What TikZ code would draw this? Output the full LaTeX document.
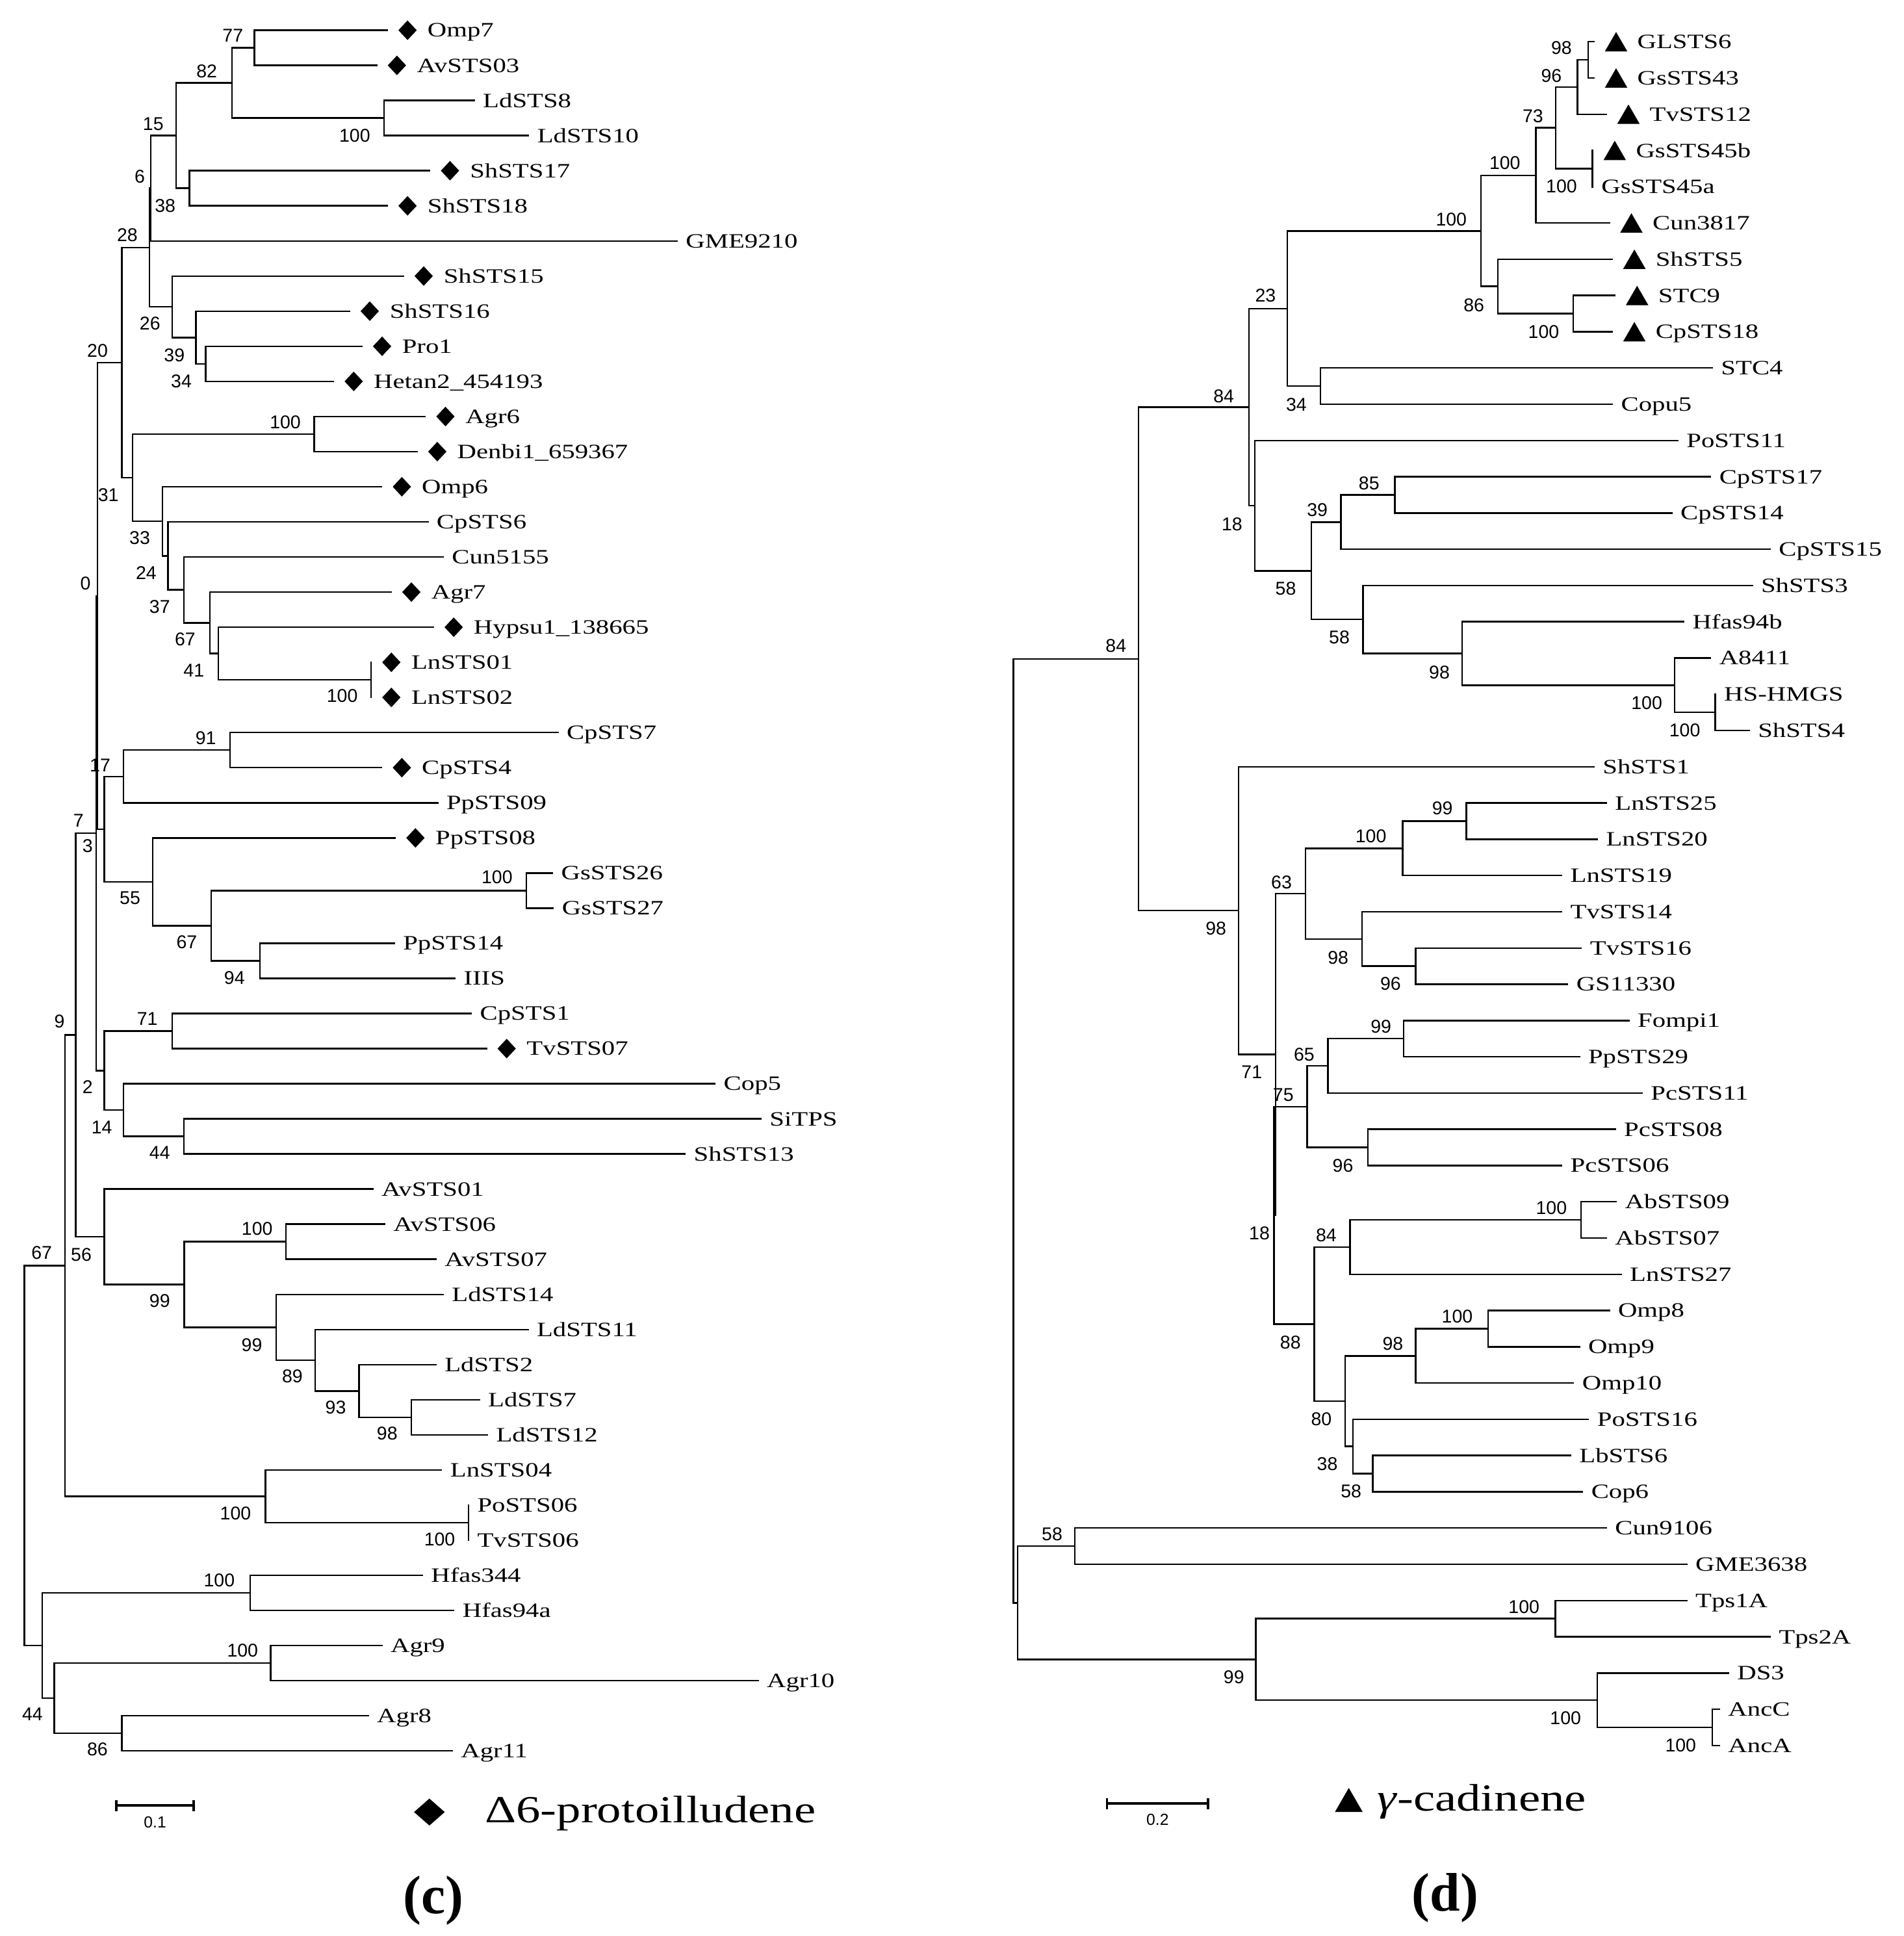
\documentclass[tikz,border=0pt]{standalone}
\usepackage{fontspec}
\setmainfont{Liberation Serif}
\newfontfamily\leaffont[FakeStretch=1.3]{Liberation Serif}
\newfontfamily\bsfont{Liberation Sans}
\newfontfamily\legfont[FakeStretch=1.27]{Liberation Serif}
\usetikzlibrary{shapes.geometric}
\tikzset{
 br/.style={line width=1.3pt, line cap=rect, black},
 sbar/.style={line width=2pt, black},
 lab/.style={anchor=west, inner sep=0pt, font=\leaffont\fontsize{16.5}{18}\selectfont, text height=11pt, text depth=0pt},
 bs/.style={inner sep=0pt, font=\bsfont\fontsize{15}{16}\selectfont},
 sclab/.style={inner sep=0pt, font=\bsfont\fontsize{13}{14}\selectfont},
 dmark/.style={diamond, fill=black, inner sep=0pt, minimum width=15pt, minimum height=16pt},
 tmark/.style={regular polygon, regular polygon sides=3, fill=black, inner sep=0pt, minimum size=21pt, yshift=-2.6pt},
 legtxt/.style={anchor=base west, inner sep=0pt, font=\legfont\fontsize{31}{34}\selectfont},
 captxt/.style={inner sep=0pt, font=\bfseries\fontsize{44}{48}\selectfont}
}
\newcommand\leafP[4]{\coordinate (#1) at (#2,#3); \node[lab] (#1t) at ({#2+7},#3) {#4};}
\newcommand\leafD[4]{\coordinate (#1) at (#2,#3); \node[dmark] (#1m) at ({#2+16.5},#3) {}; \node[lab] (#1t) at ({#2+32.5},#3) {#4};}
\newcommand\leafT[4]{\coordinate (#1) at (#2,#3); \node[tmark] (#1m) at ({#2+18},#3) {}; \node[lab] (#1t) at ({#2+35},#3) {#4};}
\newcommand\bsv[4]{\node[bs] (#1) at (#2,#3) {#4};}
\begin{document}
\begin{tikzpicture}[x=1pt,y=-1pt]
\useasboundingbox (0,0) rectangle (1542,1568);
% ---------------- left tree leaves ----------------
\leafD{L0}{313.6}{24.5}{Omp7}
\leafD{L1}{305}{52.94}{AvSTS03}
\leafP{L2}{384}{81.38}{LdSTS8}
\leafP{L3}{428}{109.82}{LdSTS10}
\leafD{L4}{348}{138.26}{ShSTS17}
\leafD{L5}{313.6}{166.7}{ShSTS18}
\leafP{L6}{548.3}{195.14}{GME9210}
\leafD{L7}{326.7}{223.58}{ShSTS15}
\leafD{L8}{283}{252.02}{ShSTS16}
\leafD{L9}{293}{280.46}{Pro1}
\leafD{L10}{270}{308.9}{Hetan2\_454193}
\leafD{L11}{344.3}{337.34}{Agr6}
\leafD{L12}{337.7}{365.78}{Denbi1\_659367}
\leafD{L13}{309}{394.22}{Omp6}
\leafP{L14}{346.5}{422.66}{CpSTS6}
\leafP{L15}{358.8}{451.1}{Cun5155}
\leafD{L16}{316.7}{479.54}{Agr7}
\leafD{L17}{351}{507.98}{Hypsu1\_138665}
\leafD{L18}{300.5}{536.42}{LnSTS01}
\leafD{L19}{300.5}{564.86}{LnSTS02}
\leafP{L20}{451.8}{593.3}{CpSTS7}
\leafD{L21}{309}{621.74}{CpSTS4}
\leafP{L22}{354.4}{650.18}{PpSTS09}
\leafD{L23}{320}{678.62}{PpSTS08}
\leafP{L24}{447.4}{707.06}{GsSTS26}
\leafP{L25}{448}{735.5}{GsSTS27}
\leafP{L26}{319.3}{763.94}{PpSTS14}
\leafP{L27}{368.4}{792.38}{IIIS}
\leafP{L28}{381.6}{820.82}{CpSTS1}
\leafD{L29}{393.9}{849.26}{TvSTS07}
\leafP{L30}{579}{877.7}{Cop5}
\leafP{L31}{616.2}{906.14}{SiTPS}
\leafP{L32}{554.8}{934.58}{ShSTS13}
\leafP{L33}{301.8}{963.02}{AvSTS01}
\leafP{L34}{311.4}{991.46}{AvSTS06}
\leafP{L35}{353}{1019.9}{AvSTS07}
\leafP{L36}{358.8}{1048.34}{LdSTS14}
\leafP{L37}{427.6}{1076.78}{LdSTS11}
\leafP{L38}{353}{1105.22}{LdSTS2}
\leafP{L39}{388.2}{1133.66}{LdSTS7}
\leafP{L40}{394.7}{1162.1}{LdSTS12}
\leafP{L41}{357.5}{1190.54}{LnSTS04}
\leafP{L42}{379.4}{1218.98}{PoSTS06}
\leafP{L43}{379.4}{1247.42}{TvSTS06}
\leafP{L44}{342}{1275.86}{Hfas344}
\leafP{L45}{367.5}{1304.3}{Hfas94a}
\leafP{L46}{309.2}{1332.74}{Agr9}
\leafP{L47}{614}{1361.18}{Agr10}
\leafP{L48}{298.2}{1389.62}{Agr8}
\leafP{L49}{366.2}{1418.06}{Agr11}
% ---------------- left tree internal nodes ----------------
\coordinate (nA) at (206,38.72);
\coordinate (nB) at (311,95.6);
\coordinate (nC) at (188,67.16);
\coordinate (nE) at (153.5,152.48);
\coordinate (nD) at (142.5,109.82);
\coordinate (nF6) at (122,152.48);
\coordinate (n34) at (166.7,294.68);
\coordinate (n39) at (158.8,273.35);
\coordinate (n26) at (139.5,248.47);
\coordinate (n28) at (121,200.47);
\coordinate (nAg6) at (254.4,351.56);
\coordinate (nLn) at (300.5,550.64);
\coordinate (n41) at (176.8,529.31);
\coordinate (n67) at (170,504.43);
\coordinate (n37) at (149,477.77);
\coordinate (n24) at (136,450.21);
\coordinate (n33) at (131.6,422.22);
\coordinate (n31) at (107.5,386.89);
\coordinate (n20) at (98.7,293.68);
\coordinate (n91) at (186.4,607.52);
\coordinate (n17) at (100,628.85);
\coordinate (nGs) at (426.3,721.28);
\coordinate (n94) at (210.5,778.16);
\coordinate (n67b) at (171,749.72);
\coordinate (n55) at (123.7,714.17);
\coordinate (n3) at (84.6,671.51);
\coordinate (n0) at (79,482.6);
\coordinate (n71) at (139.5,835.04);
\coordinate (n44) at (149,920.36);
\coordinate (n14) at (100,899.03);
\coordinate (n2) at (84.6,867.04);
\coordinate (n7) at (78,674.82);
\coordinate (nAv) at (231.6,1005.68);
\coordinate (n98L) at (333.3,1147.88);
\coordinate (n93) at (290.8,1126.55);
\coordinate (n89) at (255.3,1101.67);
\coordinate (n99b) at (223.7,1075.01);
\coordinate (n99) at (149.1,1040.35);
\coordinate (n56) at (84.6,1001.69);
\coordinate (n9) at (61.4,838.26);
\coordinate (nPo) at (379.4,1233.2);
\coordinate (nLn4) at (215,1211.87);
\coordinate (n67r) at (52.6,1025.07);
\coordinate (nH) at (202.6,1290.08);
\coordinate (nA9) at (219.3,1346.96);
\coordinate (n86) at (98.7,1403.84);
\coordinate (nX) at (43.9,1375.4);
\coordinate (n44r) at (34.2,1332.74);
\coordinate (root) at (19.7,1178.9);
% ---------------- left tree branches ----------------
\draw[br] (nA) |- (L0) (nA) |- (L1);
\draw[br] (nB) |- (L2) (nB) |- (L3);
\draw[br] (nC) |- (nA) (nC) |- (nB);
\draw[br] (nE) |- (L4) (nE) |- (L5);
\draw[br] (nD) |- (nC) (nD) |- (nE);
\draw[br] (nF6) |- (nD) (nF6) |- (L6);
\draw[br] (n34) |- (L9) (n34) |- (L10);
\draw[br] (n39) |- (L8) (n39) |- (n34);
\draw[br] (n26) |- (L7) (n26) |- (n39);
\draw[br] (n28) |- (nF6) (n28) |- (n26);
\draw[br] (nAg6) |- (L11) (nAg6) |- (L12);
\draw[br] (nLn) |- (L18) (nLn) |- (L19);
\draw[br] (n41) |- (L17) (n41) |- (nLn);
\draw[br] (n67) |- (L16) (n67) |- (n41);
\draw[br] (n37) |- (L15) (n37) |- (n67);
\draw[br] (n24) |- (L14) (n24) |- (n37);
\draw[br] (n33) |- (L13) (n33) |- (n24);
\draw[br] (n31) |- (nAg6) (n31) |- (n33);
\draw[br] (n20) |- (n28) (n20) |- (n31);
\draw[br] (n91) |- (L20) (n91) |- (L21);
\draw[br] (n17) |- (n91) (n17) |- (L22);
\draw[br] (nGs) |- (L24) (nGs) |- (L25);
\draw[br] (n94) |- (L26) (n94) |- (L27);
\draw[br] (n67b) |- (nGs) (n67b) |- (n94);
\draw[br] (n55) |- (L23) (n55) |- (n67b);
\draw[br] (n3) |- (n17) (n3) |- (n55);
\draw[br] (n0) |- (n20) (n0) |- (n3);
\draw[br] (n71) |- (L28) (n71) |- (L29);
\draw[br] (n44) |- (L31) (n44) |- (L32);
\draw[br] (n14) |- (L30) (n14) |- (n44);
\draw[br] (n2) |- (n71) (n2) |- (n14);
\draw[br] (n7) |- (n0) (n7) |- (n2);
\draw[br] (nAv) |- (L34) (nAv) |- (L35);
\draw[br] (n98L) |- (L39) (n98L) |- (L40);
\draw[br] (n93) |- (L38) (n93) |- (n98L);
\draw[br] (n89) |- (L37) (n89) |- (n93);
\draw[br] (n99b) |- (L36) (n99b) |- (n89);
\draw[br] (n99) |- (nAv) (n99) |- (n99b);
\draw[br] (n56) |- (L33) (n56) |- (n99);
\draw[br] (n9) |- (n7) (n9) |- (n56);
\draw[br] (nPo) |- (L42) (nPo) |- (L43);
\draw[br] (nLn4) |- (L41) (nLn4) |- (nPo);
\draw[br] (n67r) |- (n9) (n67r) |- (nLn4);
\draw[br] (nH) |- (L44) (nH) |- (L45);
\draw[br] (nA9) |- (L46) (nA9) |- (L47);
\draw[br] (n86) |- (L48) (n86) |- (L49);
\draw[br] (nX) |- (nA9) (nX) |- (n86);
\draw[br] (n44r) |- (nH) (n44r) |- (nX);
\draw[br] (root) |- (n67r) (root) |- (n44r);
% ---------------- left bootstrap values ----------------
\bsv{b1}{188.6}{29}{77}
\bsv{b2}{167.5}{57.5}{82}
\bsv{b3}{287.3}{110}{100}
\bsv{b4}{124.1}{100.3}{15}
\bsv{b5}{113.2}{143.1}{6}
\bsv{b6}{133.8}{166.8}{38}
\bsv{b7}{103.1}{190.5}{28}
\bsv{b8}{121.5}{262.2}{26}
\bsv{b9}{141.2}{287.6}{39}
\bsv{b10}{146.9}{308.9}{34}
\bsv{b11}{79}{284}{20}
\bsv{b12}{231.1}{342}{100}
\bsv{b13}{87.7}{401}{31}
\bsv{b14}{113.2}{435.6}{33}
\bsv{b15}{118.4}{463.9}{24}
\bsv{b16}{69.3}{472.3}{0}
\bsv{b17}{129.4}{491.2}{37}
\bsv{b18}{150}{517.8}{67}
\bsv{b19}{157}{542.9}{41}
\bsv{b20}{277.2}{563.7}{100}
\bsv{b21}{166.7}{598}{91}
\bsv{b22}{81.1}{619.8}{17}
\bsv{b23}{63.6}{664.5}{7}
\bsv{b24}{71}{685}{3}
\bsv{b25}{402.6}{710.4}{100}
\bsv{b26}{105.3}{727.3}{55}
\bsv{b27}{151.3}{762.9}{67}
\bsv{b28}{189.9}{791.9}{94}
\bsv{b29}{119.3}{825}{71}
\bsv{b30}{48.2}{827.4}{9}
\bsv{b31}{71}{880.6}{2}
\bsv{b32}{82.5}{912.8}{14}
\bsv{b33}{129.4}{933.8}{44}
\bsv{b34}{208.3}{995.4}{100}
\bsv{b35}{33.8}{1014.8}{67}
\bsv{b36}{65.8}{1016}{56}
\bsv{b37}{129.4}{1053.4}{99}
\bsv{b38}{204}{1089.2}{99}
\bsv{b39}{236.8}{1114.5}{89}
\bsv{b40}{271.9}{1140.1}{93}
\bsv{b41}{313.6}{1160.8}{98}
\bsv{b42}{190.8}{1225.7}{100}
\bsv{b43}{356.1}{1246.9}{100}
\bsv{b44}{177.6}{1280}{100}
\bsv{b45}{196.5}{1336.9}{100}
\bsv{b46}{26.3}{1388.5}{44}
\bsv{b47}{78.9}{1416.5}{86}
% ---------------- right tree leaves ----------------
\leafT{R0}{1291}{33.8}{GLSTS6}
\leafT{R1}{1291}{63.16}{GsSTS43}
\leafT{R2}{1301}{92.52}{TvSTS12}
\leafT{R3}{1289.9}{121.88}{GsSTS45b}
\leafP{R4}{1289.9}{151.24}{GsSTS45a}
\leafT{R5}{1303.4}{180.6}{Cun3817}
\leafT{R6}{1305.8}{209.96}{ShSTS5}
\leafT{R7}{1308}{239.32}{STC9}
\leafT{R8}{1305.8}{268.68}{CpSTS18}
\leafP{R9}{1386.8}{298.04}{STC4}
\leafP{R10}{1305.8}{327.4}{Copu5}
\leafP{R11}{1358.9}{356.76}{PoSTS11}
\leafP{R12}{1385.4}{386.12}{CpSTS17}
\leafP{R13}{1354}{415.48}{CpSTS14}
\leafP{R14}{1433.6}{444.84}{CpSTS15}
\leafP{R15}{1419.2}{474.2}{ShSTS3}
\leafP{R16}{1363.7}{503.56}{Hfas94b}
\leafP{R17}{1385.4}{532.92}{A8411}
\leafP{R18}{1389.3}{562.28}{HS-HMGS}
\leafP{R19}{1416.7}{591.64}{ShSTS4}
\leafP{R20}{1291}{621}{ShSTS1}
\leafP{R21}{1301}{650.36}{LnSTS25}
\leafP{R22}{1293.7}{679.72}{LnSTS20}
\leafP{R23}{1264.8}{709.08}{LnSTS19}
\leafP{R24}{1264.8}{738.44}{TvSTS14}
\leafP{R25}{1280.7}{767.8}{TvSTS16}
\leafP{R26}{1269.6}{797.16}{GS11330}
\leafP{R27}{1319.3}{826.52}{Fompi1}
\leafP{R28}{1279.2}{855.88}{PpSTS29}
\leafP{R29}{1329.9}{885.24}{PcSTS11}
\leafP{R30}{1308.2}{914.6}{PcSTS08}
\leafP{R31}{1264.8}{943.96}{PcSTS06}
\leafP{R32}{1309}{973.32}{AbSTS09}
\leafP{R33}{1301}{1002.68}{AbSTS07}
\leafP{R34}{1313}{1032.04}{LnSTS27}
\leafP{R35}{1303.4}{1061.4}{Omp8}
\leafP{R36}{1279.2}{1090.76}{Omp9}
\leafP{R37}{1274.4}{1120.12}{Omp10}
\leafP{R38}{1286.5}{1149.48}{PoSTS16}
\leafP{R39}{1272}{1178.84}{LbSTS6}
\leafP{R40}{1281.7}{1208.2}{Cop6}
\leafP{R41}{1301}{1237.56}{Cun9106}
\leafP{R42}{1366.1}{1266.92}{GME3638}
\leafP{R43}{1366.1}{1296.28}{Tps1A}
\leafP{R44}{1433.6}{1325.64}{Tps2A}
\leafP{R45}{1399.9}{1355}{DS3}
\leafP{R46}{1392.6}{1384.36}{AncC}
\leafP{R47}{1392.6}{1413.72}{AncA}
% ---------------- right tree internal nodes ----------------
\coordinate (r98) at (1286.5,48.48);
\coordinate (r96) at (1277.8,70.5);
\coordinate (r45) at (1289.9,136.56);
\coordinate (r73) at (1260,103.53);
\coordinate (r100b) at (1244,142.07);
\coordinate (rstc) at (1274.4,254);
\coordinate (r86) at (1213.1,231.98);
\coordinate (r100a) at (1199.6,187.03);
\coordinate (r34) at (1069.4,312.72);
\coordinate (r23) at (1042.8,249.88);
\coordinate (r85) at (1129.7,400.8);
\coordinate (r39) at (1086.2,422.82);
\coordinate (rhs) at (1389.3,576.96);
\coordinate (ra8) at (1356.4,554.94);
\coordinate (r98h) at (1184.2,529.25);
\coordinate (r58b) at (1104.1,501.73);
\coordinate (r58a) at (1062.1,462.28);
\coordinate (r18) at (1016.3,409.52);
\coordinate (r84a) at (1011.5,329.7);
\coordinate (r99L) at (1187.6,665.04);
\coordinate (r100L) at (1136,687.06);
\coordinate (r96t) at (1146.6,782.48);
\coordinate (r98t) at (1103.1,760.46);
\coordinate (r63) at (1057.3,723.76);
\coordinate (r99f) at (1137,841.2);
\coordinate (r65) at (1075.6,863.22);
\coordinate (r96p) at (1108,929.28);
\coordinate (r75) at (1058.7,896.25);
\coordinate (rab) at (1280.7,988);
\coordinate (r84b) at (1093.5,1010.02);
\coordinate (romp) at (1205.4,1076.08);
\coordinate (r98o) at (1146.6,1098.1);
\coordinate (r58c) at (1111.8,1193.52);
\coordinate (r38) at (1095.9,1171.5);
\coordinate (r80) at (1089.6,1134.8);
\coordinate (r88) at (1064.5,1072.41);
\coordinate (r18b) at (1032,984.33);
\coordinate (r71) at (1033.2,854.05);
\coordinate (r98g) at (1003.3,737.53);
\coordinate (r84g) at (922.2,533.62);
\coordinate (r58d) at (870.6,1252.24);
\coordinate (rtps) at (1259.9,1310.96);
\coordinate (ranc) at (1386.8,1399.04);
\coordinate (rds) at (1293.7,1377.02);
\coordinate (r99t) at (1017.2,1343.99);
\coordinate (rY) at (824.2,1298.12);
\coordinate (rroot) at (820.9,915.87);
% ---------------- right tree branches ----------------
\draw[br] (r98) |- (R0) (r98) |- (R1);
\draw[br] (r96) |- (r98) (r96) |- (R2);
\draw[br] (r45) |- (R3) (r45) |- (R4);
\draw[br] (r73) |- (r96) (r73) |- (r45);
\draw[br] (r100b) |- (r73) (r100b) |- (R5);
\draw[br] (rstc) |- (R7) (rstc) |- (R8);
\draw[br] (r86) |- (R6) (r86) |- (rstc);
\draw[br] (r100a) |- (r100b) (r100a) |- (r86);
\draw[br] (r34) |- (R9) (r34) |- (R10);
\draw[br] (r23) |- (r100a) (r23) |- (r34);
\draw[br] (r85) |- (R12) (r85) |- (R13);
\draw[br] (r39) |- (r85) (r39) |- (R14);
\draw[br] (rhs) |- (R18) (rhs) |- (R19);
\draw[br] (ra8) |- (R17) (ra8) |- (rhs);
\draw[br] (r98h) |- (R16) (r98h) |- (ra8);
\draw[br] (r58b) |- (R15) (r58b) |- (r98h);
\draw[br] (r58a) |- (r39) (r58a) |- (r58b);
\draw[br] (r18) |- (R11) (r18) |- (r58a);
\draw[br] (r84a) |- (r23) (r84a) |- (r18);
\draw[br] (r99L) |- (R21) (r99L) |- (R22);
\draw[br] (r100L) |- (r99L) (r100L) |- (R23);
\draw[br] (r96t) |- (R25) (r96t) |- (R26);
\draw[br] (r98t) |- (R24) (r98t) |- (r96t);
\draw[br] (r63) |- (r100L) (r63) |- (r98t);
\draw[br] (r99f) |- (R27) (r99f) |- (R28);
\draw[br] (r65) |- (r99f) (r65) |- (R29);
\draw[br] (r96p) |- (R30) (r96p) |- (R31);
\draw[br] (r75) |- (r65) (r75) |- (r96p);
\draw[br] (rab) |- (R32) (rab) |- (R33);
\draw[br] (r84b) |- (rab) (r84b) |- (R34);
\draw[br] (romp) |- (R35) (romp) |- (R36);
\draw[br] (r98o) |- (romp) (r98o) |- (R37);
\draw[br] (r58c) |- (R39) (r58c) |- (R40);
\draw[br] (r38) |- (R38) (r38) |- (r58c);
\draw[br] (r80) |- (r98o) (r80) |- (r38);
\draw[br] (r88) |- (r84b) (r88) |- (r80);
\draw[br] (r18b) |- (r75) (r18b) |- (r88);
\draw[br] (r71) |- (r63) (r71) |- (r18b);
\draw[br] (r98g) |- (R20) (r98g) |- (r71);
\draw[br] (r84g) |- (r84a) (r84g) |- (r98g);
\draw[br] (r58d) |- (R41) (r58d) |- (R42);
\draw[br] (rtps) |- (R43) (rtps) |- (R44);
\draw[br] (ranc) |- (R46) (ranc) |- (R47);
\draw[br] (rds) |- (R45) (rds) |- (ranc);
\draw[br] (r99t) |- (rtps) (r99t) |- (rds);
\draw[br] (rY) |- (r58d) (rY) |- (r99t);
\draw[br] (rroot) |- (r84g) (rroot) |- (rY);
% ---------------- right bootstrap values ----------------
\bsv{c1}{1264.8}{38.7}{98}
\bsv{c2}{1256.6}{61.6}{96}
\bsv{c3}{1241.6}{94.3}{73}
\bsv{c4}{1218.9}{131.7}{100}
\bsv{c5}{1264.8}{151}{100}
\bsv{c6}{1175.5}{177.6}{100}
\bsv{c7}{1193.8}{247}{86}
\bsv{c8}{1250.3}{268.8}{100}
\bsv{c9}{1025}{239.3}{23}
\bsv{c10}{1050}{327.5}{34}
\bsv{c11}{991.2}{321}{84}
\bsv{c12}{1108.9}{391.4}{85}
\bsv{c13}{1067}{413.1}{39}
\bsv{c14}{997.9}{424.5}{18}
\bsv{c15}{1041.4}{476.7}{58}
\bsv{c16}{1084.8}{516.3}{58}
\bsv{c17}{903.9}{523.1}{84}
\bsv{c18}{1165.9}{544.4}{98}
\bsv{c19}{1333.8}{569.5}{100}
\bsv{c20}{1364.6}{591.2}{100}
\bsv{c21}{1168.3}{654.8}{99}
\bsv{c22}{1110.4}{677.3}{100}
\bsv{c23}{1038}{714.5}{63}
\bsv{c24}{984.9}{751.8}{98}
\bsv{c25}{1083.8}{775.5}{98}
\bsv{c26}{1126.3}{796.7}{96}
\bsv{c27}{1118.6}{831.5}{99}
\bsv{c28}{1056.3}{854}{65}
\bsv{c29}{1013.9}{868.5}{71}
\bsv{c30}{1039.4}{886.7}{75}
\bsv{c31}{1087.7}{944.2}{96}
\bsv{c32}{1256.6}{978.5}{100}
\bsv{c33}{1074.2}{1000.3}{84}
\bsv{c34}{1020.1}{999}{18}
\bsv{c35}{1180.3}{1066}{100}
\bsv{c36}{1128.2}{1088.5}{98}
\bsv{c37}{1045.2}{1087.3}{88}
\bsv{c38}{1070.3}{1149.5}{80}
\bsv{c39}{1075.1}{1185.5}{38}
\bsv{c40}{1094.4}{1208}{58}
\bsv{c41}{852.2}{1242.5}{58}
\bsv{c42}{1234.4}{1301.5}{100}
\bsv{c43}{999.4}{1358.4}{99}
\bsv{c44}{1268.1}{1391.5}{100}
\bsv{c45}{1361.3}{1413.6}{100}
% ---------------- scale bars ----------------
\coordinate (sL1) at (94.3,1462.3);
\coordinate (sL2) at (157,1462.3);
\draw[sbar] (sL1) -- (sL2);
\draw[sbar] ([yshift=4.5pt]sL1) -- ([yshift=-4.5pt]sL1);
\draw[sbar] ([yshift=4.5pt]sL2) -- ([yshift=-4.5pt]sL2);
\node[sclab] (sLt) at (125.6,1476) {0.1};
\coordinate (sR1) at (896.6,1460.8);
\coordinate (sR2) at (978.6,1460.8);
\draw[sbar] (sR1) -- (sR2);
\draw[sbar] ([yshift=4.5pt]sR1) -- ([yshift=-4.5pt]sR1);
\draw[sbar] ([yshift=4.5pt]sR2) -- ([yshift=-4.5pt]sR2);
\node[sclab] (sRt) at (937.6,1474) {0.2};
% ---------------- legends ----------------
\node[dmark, minimum width=25pt, minimum height=22pt] (legD) at (347.8,1467.6) {};
\node[legtxt] (legDt) at (392.6,1476) {Δ6-protoilludene};
\node[tmark, minimum size=26pt, yshift=-0.65pt] (legT) at (1092.5,1457.8) {};
\node[legtxt] (legTt) at (1115.2,1466.5) {\textit{γ}-cadinene};
% ---------------- captions ----------------
\node[captxt] (capc) at (350.9,1539) {(c)};
\node[captxt] (capd) at (1170.6,1537) {(d)};
\end{tikzpicture}
\end{document}
